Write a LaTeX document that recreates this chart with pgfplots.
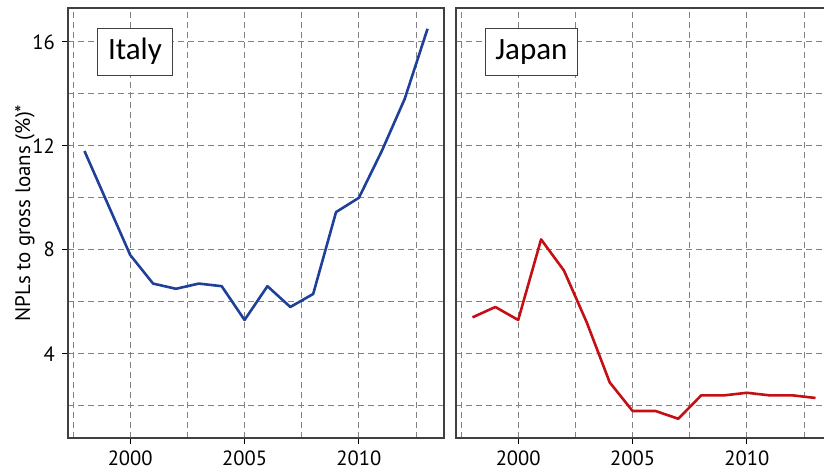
\documentclass[border=0pt]{standalone}
\usepackage{fontspec}
\setmainfont{PT Sans}
\newfontfamily\carlito{Carlito}
\usepackage{pgfplots}
\pgfplotsset{compat=1.18}
\definecolor{itblue}{RGB}{31,64,154}
\definecolor{jpred}{RGB}{196,16,20}
\definecolor{gridc}{RGB}{130,130,130}
\pgfplotsset{
  panel/.style={
    scale only axis, width=188pt, height=215pt,
    xmin=1997.28, xmax=2013.72, ymin=0.76, ymax=17.3,
    xtick={2000,2005,2010}, minor xtick={1997.5,2002.5,2007.5,2012.5},
    ytick={4,8,12,16}, minor ytick={2,6,10,14},
    grid=both,
    major grid style={gridc, dash pattern=on 3pt off 2pt, line width=0.5pt},
    minor grid style={gridc, dash pattern=on 3pt off 2pt, line width=0.5pt},
    tick align=outside, major tick length=3pt, minor tick length=0pt,
    tick style={black, line width=0.5pt},
    axis line style={gray!50!black, line width=0.7pt},
    xtick pos=lower, ytick pos=left,
    /pgf/number format/assume math mode=true,
    /pgf/number format/1000 sep={},
    tick label style={font=\fontsize{10.3}{12}\selectfont},
    xticklabel style={inner sep=1pt, yshift=-2pt},
  },
}
\tikzset{
  lbl/.style={draw=gray!50!black, fill=white, line width=0.6pt, minimum height=23.5pt,
    anchor=west, inner sep=0pt, font=\carlito\fontsize{15.5}{18}\selectfont},
}
\begin{document}
\begin{tikzpicture}
\begin{axis}[panel, at={(0pt,0pt)},
  every axis y label/.style={at={(rel axis cs:0,0.5)}, xshift=-21.5pt, yshift=5pt, rotate=90, anchor=center},
  ylabel={\fontsize{10.5}{12}\selectfont NPLs to gross loans (\%)*}]
\addplot[itblue, line width=1.3pt, line join=round] coordinates {
(1998,11.8) (1999,9.8) (2000,7.8) (2001,6.7) (2002,6.5) (2003,6.7) (2004,6.6)
(2005,5.3) (2006,6.6) (2007,5.8) (2008,6.3) (2009,9.45) (2010,10.0) (2011,11.8)
(2012,13.8) (2013,16.5)};
\node[lbl, minimum width=37.5pt] at (axis cs:1998.54,15.62) {Italy};
\end{axis}
\begin{axis}[panel, at={(194pt,0pt)}, yticklabels={}, ytick style={draw=none}]
\addplot[jpred, line width=1.3pt, line join=round] coordinates {
(1998,5.4) (1999,5.8) (2000,5.3) (2001,8.4) (2002,7.2) (2003,5.2) (2004,2.9)
(2005,1.8) (2006,1.8) (2007,1.5) (2008,2.4) (2009,2.4) (2010,2.5) (2011,2.4)
(2012,2.4) (2013,2.3)};
\node[lbl, minimum width=46pt] at (axis cs:1998.54,15.62) {Japan};
\end{axis}
\pgfresetboundingbox
\useasboundingbox (-34pt,-15pt) rectangle (378pt,219pt);
\end{tikzpicture}
\end{document}
